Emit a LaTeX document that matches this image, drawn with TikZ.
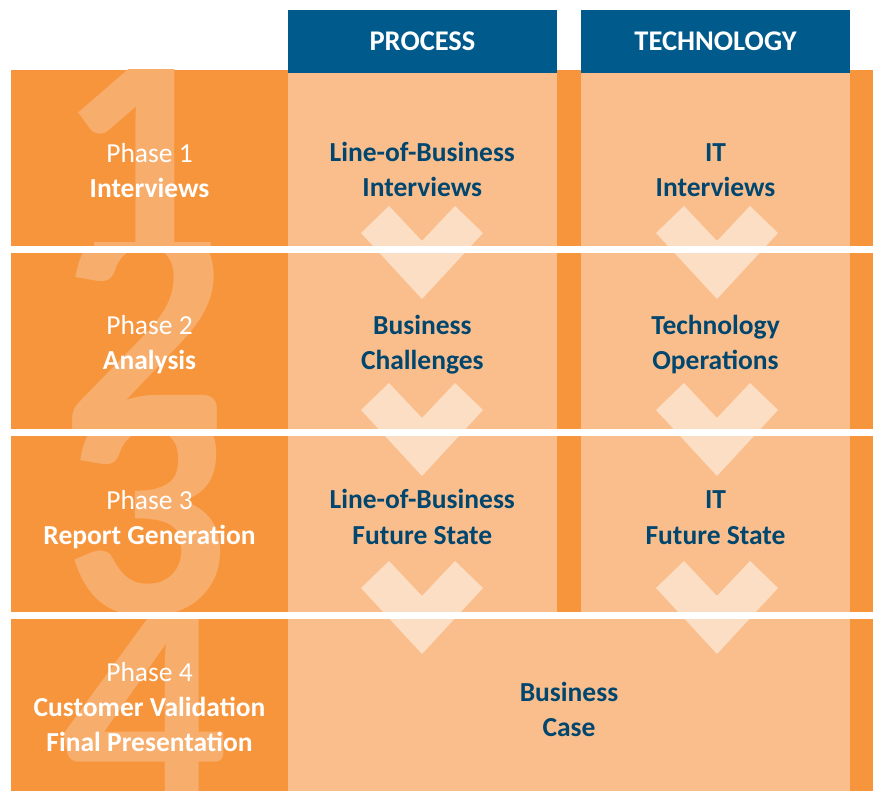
\documentclass[tikz,border=0pt]{standalone}
\usepackage{fontspec}
\setmainfont{Carlito}
\definecolor{orangeD}{HTML}{F7953C}
\definecolor{orangeL}{HTML}{FABE8C}
\definecolor{digitC}{HTML}{F7AD6B}
\definecolor{chevC}{HTML}{FCDEC4}
\definecolor{hdrBlue}{HTML}{005A8B}
\definecolor{txtBlue}{HTML}{00466E}
\tikzset{
  digit/.style={font=\fontsize{330}{330}\selectfont\bfseries, text=digitC, inner sep=0pt, anchor=base},
  hdr/.style={fill=hdrBlue, text=white, font=\fontsize{28.5}{33}\selectfont\bfseries, minimum width=269pt, minimum height=62.7pt, inner sep=0pt},
  phase/.style={text=white, align=center, inner sep=0pt, anchor=base, font=\fontsize{27.5}{35}\selectfont},
  cell/.style={text=txtBlue, align=center, inner sep=0pt, anchor=base, font=\fontsize{27.5}{35.5}\selectfont\bfseries},
  chev/.style={fill=chevC}
}
\newcommand{\chevron}[2]{\fill[chev] (#1,#2) -- ++(-61,-66) -- ++(28,-27) -- (#1,#2-58) -- ++(33,-35) -- ++(28,27) -- cycle;}
\begin{document}
\begin{tikzpicture}[x=1pt,y=-1pt]
\useasboundingbox (0,0) rectangle (878,791);
% orange rows
\fill[orangeD] (11,70) rectangle (873,791);
% light columns
\fill[orangeL] (288,72) rectangle (557,612);
\fill[orangeL] (581,72) rectangle (850,612);
\fill[orangeL] (288,612) rectangle (850,791);
% big digits
\begin{scope}\clip (11,70) rectangle (288,246);\node[digit] (d1) at (140,272) {1};\end{scope}
\begin{scope}\clip (11,253) rectangle (288,429);\node[digit] (d2) at (145,431) {2};\end{scope}
\begin{scope}\clip (11,436) rectangle (288,612);\node[digit] (d3) at (146,614) {3};\end{scope}
\begin{scope}\clip (11,619) rectangle (288,791);\node[digit] (d4) at (145,813) {4};\end{scope}
% chevrons
\chevron{422}{299}\chevron{717}{299}
\chevron{422}{476}\chevron{717}{476}
\chevron{422}{654}\chevron{717}{654}
% white separators
\fill[white] (0,246) rectangle (878,253);
\fill[white] (0,429) rectangle (878,436);
\fill[white] (0,612) rectangle (878,619);
% headers
\node[hdr] (hproc) at (422.5,41.35) {PROCESS};
\node[hdr] (htech) at (715.5,41.35) {TECHNOLOGY};
% phase labels (anchor = baseline of last line)
\node[phase] (p1) at (149.5,197.3) {Phase 1\\\textbf{Interviews}};
\node[phase] (p2) at (149.5,369.5) {Phase 2\\\textbf{Analysis}};
\node[phase] (p3) at (149.5,544) {Phase 3\\\textbf{Report Generation}};
\node[phase] (p4) at (149.5,751.7) {Phase 4\\\textbf{Customer Validation}\\\textbf{Final Presentation}};
% cells
\node[cell] (c11) at (422.3,196.7) {Line-of-Business\\Interviews};
\node[cell] (c12) at (715.5,196.7) {IT\\Interviews};
\node[cell] (c21) at (422.3,370) {Business\\Challenges};
\node[cell] (c22) at (715.5,370) {Technology\\Operations};
\node[cell] (c31) at (422.3,544) {Line-of-Business\\Future State};
\node[cell] (c32) at (715.5,544) {IT\\Future State};
\node[cell] (c4) at (569,736.7) {Business\\Case};
\end{tikzpicture}
\end{document}
